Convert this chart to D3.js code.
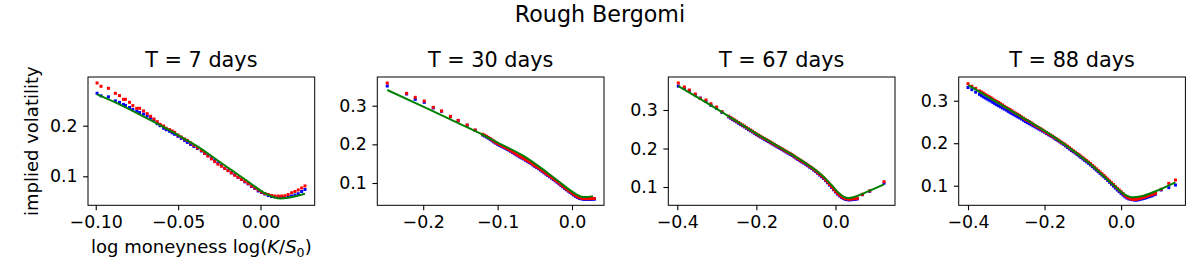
<!DOCTYPE html>
<html>
<head>
<meta charset="utf-8">
<script src="https://cdn.jsdelivr.net/npm/d3@7"></script>
<style>
  body { margin: 0; background: #fff; }
  text { font-family: "DejaVu Sans", sans-serif; fill: #000; }
</style>
</head>
<body>
<svg id="chart" width="1200" height="275"></svg>
<script>
// ---- data ----
const suptitle = 'Rough Bergomi'
const titles = ['T = 7 days', 'T = 30 days', 'T = 67 days', 'T = 88 days']

// T = 7 days
const k7 = [-0.0992, -0.0968, -0.0923, -0.0881, -0.0856, -0.0832, -0.0820, -0.0795, -0.0775, -0.0751,
  -0.0734, -0.0710, -0.0688, -0.0667, -0.0647, -0.0627, -0.0609, -0.0588, -0.0572,
  -0.0552, -0.0536, -0.0521, -0.0501, -0.0481, -0.0461, -0.0444, -0.0424, -0.0404, -0.0383,
  -0.0359, -0.0339, -0.0319, -0.0298, -0.0278, -0.0258, -0.0237, -0.0217, -0.0197, -0.0177,
  -0.0156, -0.0136, -0.0116, -0.0095, -0.0075, -0.0055, -0.0034, -0.0014, 0.0006, 0.0026,
  0.0047, 0.0067, 0.0087, 0.0108, 0.0128, 0.0148, 0.0168, 0.0189, 0.0209, 0.0229, 0.0250, 0.0270]
const ask7 = [0.2844, 0.2778, 0.2739, 0.2640, 0.2594, 0.2521, 0.2521, 0.2462, 0.2396, 0.2343,
  0.2343, 0.2291, 0.2238, 0.2185, 0.2132, 0.2080, 0.2027, 0.1994, 0.1948,
  0.1922, 0.1895, 0.1869, 0.1816, 0.1777, 0.1737, 0.1710, 0.1660, 0.1610, 0.1560,
  0.1510, 0.1455, 0.1400, 0.1345, 0.1290, 0.1240, 0.1200, 0.1155, 0.1110, 0.1068,
  0.1020, 0.0980, 0.0940, 0.0900, 0.0860, 0.0810, 0.0770, 0.0730, 0.0690, 0.0660,
  0.0640, 0.0620, 0.0610, 0.0610, 0.0610, 0.0615, 0.0640, 0.0675, 0.0700, 0.0730, 0.0770, 0.0810]
const bid7 = [0.264, 0.259, 0.257, 0.249, 0.246, 0.242, 0.240, 0.236, 0.232, 0.229,
  0.226, 0.223, 0.219, 0.215, 0.211, 0.204, 0.200, 0.195, 0.192,
  0.189, 0.186, 0.183, 0.179, 0.175, 0.171, 0.167, 0.163, 0.159, 0.155,
  0.150, 0.145, 0.141, 0.136, 0.131, 0.126, 0.121, 0.116, 0.112, 0.107,
  0.103, 0.098, 0.094, 0.089, 0.085, 0.080, 0.076, 0.071, 0.068, 0.065,
  0.062, 0.060, 0.0595, 0.059, 0.0585, 0.0585, 0.0595, 0.061, 0.063, 0.0655, 0.070, 0.074]
const modelK7 = [-0.0992, -0.0856, -0.0670, -0.0467, -0.0365, -0.0264, -0.0162, -0.0061, 0.0020, 0.0081, 0.0122, 0.0183, 0.0270]
const model7 = [0.2620, 0.2423, 0.2113, 0.1751, 0.1553, 0.1322, 0.1091, 0.0862, 0.0676, 0.0585, 0.0560, 0.0585, 0.0655]

// T = 30 days
const k30 = [-0.2483, -0.2223, -0.2107, -0.1986, -0.1865, -0.1753, -0.1633, -0.1530, -0.1409, -0.1302,
  -0.1200, -0.1175, -0.1150, -0.1125, -0.1100, -0.1075, -0.1050, -0.1025, -0.1000, -0.0975,
  -0.0950, -0.0925, -0.0900, -0.0875, -0.0850, -0.0825, -0.0800, -0.0775, -0.0750, -0.0725,
  -0.0700, -0.0675, -0.0650, -0.0625, -0.0600, -0.0575, -0.0550, -0.0525, -0.0500, -0.0475,
  -0.0450, -0.0425, -0.0400, -0.0375, -0.0350, -0.0325, -0.0300, -0.0275, -0.0250, -0.0225,
  -0.0200, -0.0175, -0.0150, -0.0125, -0.0100, -0.0075, -0.0050, -0.0025, 0.0000, 0.0025,
  0.0050, 0.0075, 0.0100, 0.0125, 0.0150, 0.0175, 0.0200, 0.0225, 0.0250, 0.0275,
  0.0300]
const ask30 = [0.3587, 0.3320, 0.3217, 0.3122, 0.2958, 0.2863, 0.2725, 0.2621, 0.2501, 0.2371,
  0.226, 0.2235, 0.221, 0.218, 0.215, 0.2115, 0.208, 0.205, 0.202, 0.1995,
  0.197, 0.1945, 0.192, 0.1895, 0.187, 0.184, 0.181, 0.178, 0.175, 0.172,
  0.169, 0.1665, 0.164, 0.161, 0.158, 0.155, 0.152, 0.1485, 0.145, 0.142,
  0.139, 0.1355, 0.132, 0.1285, 0.125, 0.1215, 0.118, 0.1145, 0.111, 0.1075,
  0.104, 0.100, 0.096, 0.092, 0.088, 0.0845, 0.081, 0.0775, 0.074, 0.0705,
  0.067, 0.0645, 0.062, 0.061, 0.060, 0.0597, 0.0595, 0.0596, 0.0597, 0.0598,
  0.060]
const bid30 = [0.3510, 0.3303, 0.3165, 0.3087, 0.2941, 0.2855, 0.2715, 0.2612, 0.2495, 0.2365,
  0.224, 0.2215, 0.219, 0.216, 0.213, 0.2095, 0.206, 0.203, 0.200, 0.1975,
  0.195, 0.1925, 0.190, 0.1875, 0.185, 0.182, 0.179, 0.176, 0.173, 0.170,
  0.167, 0.1645, 0.162, 0.159, 0.156, 0.153, 0.150, 0.1465, 0.143, 0.140,
  0.137, 0.1335, 0.130, 0.1265, 0.123, 0.1195, 0.116, 0.1125, 0.109, 0.1055,
  0.102, 0.098, 0.094, 0.090, 0.086, 0.0825, 0.079, 0.0755, 0.072, 0.0685,
  0.065, 0.0625, 0.060, 0.059, 0.058, 0.0577, 0.0575, 0.0576, 0.0577, 0.0578,
  0.058]
const modelK30 = [-0.2483, -0.2000, -0.1500, -0.1194, -0.1000, -0.0635, -0.0411, -0.0187, 0.0036, 0.0148, 0.0215, 0.0282]
const model30 = [0.3406, 0.2975, 0.2525, 0.2242, 0.2045, 0.1681, 0.1380, 0.1052, 0.0733, 0.0635, 0.0640, 0.0660]

// T = 67 days
const k67 = [-0.3974, -0.3822, -0.3696, -0.3545, -0.3419, -0.3275, -0.3149, -0.3006, -0.2871,
  -0.270, -0.265, -0.260, -0.255, -0.250, -0.245, -0.240, -0.235, -0.230, -0.225,
  -0.220, -0.215, -0.210, -0.205, -0.200, -0.195, -0.190, -0.185, -0.180, -0.175,
  -0.170, -0.165, -0.160, -0.155, -0.150, -0.145, -0.140, -0.135, -0.130, -0.125,
  -0.120, -0.115, -0.110, -0.105, -0.100, -0.095, -0.090, -0.085, -0.080, -0.075,
  -0.070, -0.065, -0.060, -0.055, -0.050, -0.045, -0.040, -0.035, -0.030, -0.025,
  -0.020, -0.015, -0.010, -0.005, 0.000, 0.005, 0.010, 0.015, 0.020, 0.025,
  0.030, 0.035, 0.040, 0.045, 0.050, 0.055,
  0.0681, 0.0866, 0.1228]
const ask67 = [0.3701, 0.3597, 0.3519, 0.3416, 0.3303, 0.3260, 0.3164, 0.3078, 0.2957,
  0.284, 0.2805, 0.277, 0.274, 0.271, 0.2675, 0.264, 0.261, 0.258, 0.2545,
  0.251, 0.248, 0.245, 0.2415, 0.238, 0.235, 0.232, 0.229, 0.226, 0.223,
  0.220, 0.217, 0.214, 0.211, 0.208, 0.205, 0.202, 0.199, 0.196, 0.193,
  0.190, 0.187, 0.184, 0.1805, 0.177, 0.1735, 0.170, 0.167, 0.164, 0.1605,
  0.157, 0.1535, 0.150, 0.146, 0.142, 0.1375, 0.133, 0.1285, 0.124, 0.1185,
  0.113, 0.107, 0.101, 0.095, 0.089, 0.0835, 0.079, 0.075, 0.072, 0.070,
  0.069, 0.0685, 0.069, 0.0695, 0.070, 0.071,
  0.081, 0.090, 0.1138]
const bid67 = [0.362, 0.356, 0.349, 0.339, 0.331, 0.322, 0.312, 0.304, 0.294,
  0.282, 0.2785, 0.275, 0.272, 0.269, 0.2655, 0.262, 0.259, 0.256, 0.2525,
  0.249, 0.246, 0.243, 0.2395, 0.236, 0.233, 0.230, 0.227, 0.224, 0.221,
  0.218, 0.215, 0.212, 0.209, 0.206, 0.203, 0.200, 0.197, 0.194, 0.191,
  0.188, 0.185, 0.182, 0.1785, 0.175, 0.1715, 0.168, 0.165, 0.162, 0.1585,
  0.155, 0.1515, 0.148, 0.144, 0.140, 0.1355, 0.131, 0.1265, 0.122, 0.1165,
  0.111, 0.105, 0.099, 0.093, 0.087, 0.0815, 0.077, 0.073, 0.070, 0.068,
  0.067, 0.0665, 0.067, 0.0675, 0.068, 0.069,
  0.080, 0.089, 0.110]
const modelK67 = [-0.3974, -0.3023, -0.2013, -0.1339, -0.0750, -0.0329, -0.0077, 0.0092, 0.0218, 0.0328, 0.0470, 0.0765, 0.1228]
const model67 = [0.3623, 0.3043, 0.2394, 0.1987, 0.1615, 0.1294, 0.1026, 0.0836, 0.0740, 0.0714, 0.0740, 0.0862, 0.1069]

// T = 88 days
const k88 = [-0.400, -0.390, -0.380,
  -0.370, -0.365, -0.360, -0.355, -0.350, -0.345, -0.340, -0.335, -0.330, -0.325,
  -0.320, -0.315, -0.310, -0.305, -0.300, -0.295, -0.290, -0.285, -0.280, -0.275,
  -0.270, -0.265, -0.260, -0.255, -0.250, -0.245, -0.240, -0.235, -0.230, -0.225,
  -0.220, -0.215, -0.210, -0.205, -0.200, -0.195, -0.190, -0.185, -0.180, -0.175,
  -0.170, -0.165, -0.160, -0.155, -0.150, -0.145, -0.140, -0.135, -0.130, -0.125,
  -0.120, -0.115, -0.110, -0.105, -0.100, -0.095, -0.090, -0.085, -0.080, -0.075,
  -0.070, -0.065, -0.060, -0.055, -0.050, -0.045, -0.040, -0.035, -0.030, -0.025,
  -0.020, -0.015, -0.010, -0.005, 0.000, 0.005, 0.010, 0.015, 0.020, 0.025,
  0.030, 0.035, 0.040, 0.045, 0.050, 0.055, 0.060, 0.065, 0.070, 0.075,
  0.080, 0.085, 0.090,
  0.1046, 0.1246, 0.1420]
const ask88 = [0.340, 0.334, 0.329,
  0.323, 0.3205, 0.318, 0.315, 0.312, 0.3095, 0.307, 0.304, 0.301, 0.2985,
  0.296, 0.293, 0.290, 0.287, 0.284, 0.2815, 0.279, 0.276, 0.273, 0.2705,
  0.268, 0.265, 0.262, 0.259, 0.256, 0.2535, 0.251, 0.248, 0.245, 0.242,
  0.239, 0.2365, 0.234, 0.231, 0.228, 0.225, 0.222, 0.2195, 0.217, 0.214,
  0.211, 0.208, 0.205, 0.202, 0.199, 0.196, 0.193, 0.1895, 0.186, 0.1825,
  0.179, 0.176, 0.173, 0.1695, 0.166, 0.1625, 0.159, 0.1555, 0.152, 0.148,
  0.144, 0.140, 0.136, 0.132, 0.128, 0.124, 0.120, 0.1155, 0.111, 0.107,
  0.103, 0.0985, 0.094, 0.090, 0.086, 0.0815, 0.077, 0.0735, 0.071, 0.069,
  0.068, 0.0678, 0.068, 0.069, 0.070, 0.0715, 0.073, 0.0745, 0.076, 0.0775,
  0.079, 0.0805, 0.082,
  0.0915, 0.1056, 0.1134]
const bid88 = [0.331, 0.326, 0.320,
  0.315, 0.312, 0.309, 0.3065, 0.304, 0.3015, 0.299, 0.296, 0.293, 0.2905,
  0.288, 0.2855, 0.283, 0.2805, 0.278, 0.275, 0.272, 0.2695, 0.267, 0.2645,
  0.262, 0.2595, 0.257, 0.254, 0.251, 0.2485, 0.246, 0.2435, 0.241, 0.2385,
  0.236, 0.2335, 0.231, 0.2285, 0.226, 0.223, 0.220, 0.2175, 0.215, 0.212,
  0.209, 0.206, 0.203, 0.200, 0.197, 0.1935, 0.190, 0.1865, 0.183, 0.180,
  0.177, 0.1735, 0.170, 0.1665, 0.163, 0.1595, 0.156, 0.1525, 0.149, 0.145,
  0.141, 0.137, 0.133, 0.129, 0.125, 0.121, 0.117, 0.1125, 0.108, 0.1035,
  0.099, 0.0945, 0.090, 0.086, 0.082, 0.078, 0.074, 0.071, 0.069, 0.068,
  0.067, 0.0663, 0.066, 0.0668, 0.068, 0.069, 0.070, 0.0715, 0.073, 0.0745,
  0.076, 0.078, 0.080,
  0.0899, 0.0954, 0.1016]
const modelK88 = [-0.3991, -0.3007, -0.1699, -0.0828, -0.0218, 0.0087, 0.0305, 0.0523, 0.0915, 0.1420]
const model88 = [0.3369, 0.2836, 0.2115, 0.1526, 0.1032, 0.0797, 0.0726, 0.0750, 0.0875, 0.1079]

// axis ranges and ticks
const xDomains = [[-0.1047, 0.0329], [-0.2617, 0.0430], [-0.4227, 0.1505], [-0.4243, 0.1680]]
const yDomains = [[0.0427, 0.2962], [0.0423, 0.3743], [0.0525, 0.3857], [0.0539, 0.3558]]
const xTicks = [[-0.10, -0.05, 0.00], [-0.2, -0.1, 0.0], [-0.4, -0.2, 0.0], [-0.4, -0.2, 0.0]]
const yTicks = [[0.1, 0.2], [0.1, 0.2, 0.3], [0.1, 0.2, 0.3], [0.1, 0.2, 0.3]]
const xFormats = ['.2f', '.1f', '.1f', '.1f']

const strikes = [k7, k30, k67, k88]
const bids = [bid7, bid30, bid67, bid88]
const asks = [ask7, ask30, ask67, ask88]
const modelKs = [modelK7, modelK30, modelK67, modelK88]
const models = [model7, model30, model67, model88]

// ---- layout ----
const svg = d3.select('#chart')
const axLefts = [88, 377.3, 668.3, 958.7]
const axWidth = 226.7
const axTop = 77
const axHeight = 128.3
const tickLen = 4.9
const markerSize = 3
const tickFont = '17.4px'
const labelFont = '18px'

svg.append('text')
  .attr('x', 600)
  .attr('y', 22)
  .attr('text-anchor', 'middle')
  .style('font-size', '22.2px')
  .text(suptitle)

titles.forEach((title, p) => {
  const g = svg.append('g')
    .attr('transform', `translate(${axLefts[p]}, ${axTop})`)

  const x = d3.scaleLinear().domain(xDomains[p]).range([0, axWidth])
  const y = d3.scaleLinear().domain(yDomains[p]).range([axHeight, 0])

  // bid (blue), then ask (red)
  const drawMarkers = (vals, color) => {
    g.append('g')
      .selectAll('rect')
      .data(strikes[p].map((k, i) => [k, vals[i]]))
      .join('rect')
      .attr('x', d => x(d[0]) - markerSize / 2)
      .attr('y', d => y(d[1]) - markerSize / 2)
      .attr('width', markerSize)
      .attr('height', markerSize)
      .attr('fill', color)
  }
  drawMarkers(bids[p], 'blue')
  drawMarkers(asks[p], 'red')

  const line = d3.line()
    .x(d => x(d[0]))
    .y(d => y(d[1]))
    .curve(d3.curveMonotoneX)

  g.append('path')
    .datum(modelKs[p].map((k, i) => [k, models[p][i]]))
    .attr('d', line)
    .attr('fill', 'none')
    .attr('stroke', 'green')
    .attr('stroke-width', 2)

  // frame
  g.append('rect')
    .attr('width', axWidth)
    .attr('height', axHeight)
    .attr('fill', 'none')
    .attr('stroke', '#000')
    .attr('stroke-width', 1)

  const xAxis = g.append('g')
    .attr('transform', `translate(0, ${axHeight})`)
    .call(d3.axisBottom(x).tickValues(xTicks[p]).tickFormat(d3.format(xFormats[p]))
      .tickSize(tickLen).tickPadding(5.5))
  const yAxis = g.append('g')
    .call(d3.axisLeft(y).tickValues(yTicks[p]).tickFormat(d3.format('.1f'))
      .tickSize(tickLen).tickPadding(5.5))

  for (const ax of [xAxis, yAxis]) {
    ax.select('.domain').remove()
    ax.selectAll('.tick line').attr('stroke', '#000').attr('stroke-width', 1.1)
    ax.selectAll('.tick text')
      .attr('fill', '#000')
      .style('font-size', tickFont)
      .style('font-family', '"DejaVu Sans", sans-serif')
  }

  g.append('text')
    .attr('x', axWidth / 2)
    .attr('y', -10)
    .attr('text-anchor', 'middle')
    .style('font-size', '20.8px')
    .text(title)
})

// axis labels on the first panel
svg.append('text')
  .attr('transform', `translate(38, ${axTop + axHeight / 2}) rotate(-90)`)
  .attr('text-anchor', 'middle')
  .style('font-size', labelFont)
  .text('implied volatility')

const xLabel = svg.append('text')
  .attr('x', axLefts[0] + axWidth / 2)
  .attr('y', 253)
  .attr('text-anchor', 'middle')
  .style('font-size', labelFont)
xLabel.append('tspan').text('log moneyness log(')
xLabel.append('tspan').style('font-style', 'italic').text('K')
xLabel.append('tspan').text('/')
xLabel.append('tspan').style('font-style', 'italic').text('S')
xLabel.append('tspan').attr('dy', 3.5).style('font-size', '12.6px').text('0')
xLabel.append('tspan').attr('dy', -3.5).text(')')
</script>
</body>
</html>
